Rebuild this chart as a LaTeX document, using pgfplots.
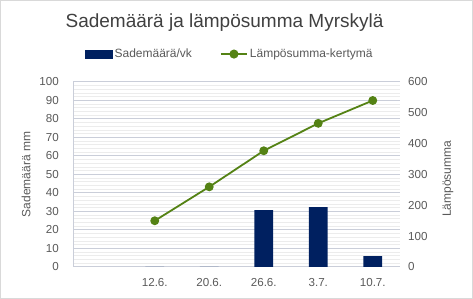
\documentclass[border=0pt]{standalone}
\usepackage{pgfplots}
\pgfplotsset{compat=1.18}
\usepackage{fontspec}
\setmainfont{Liberation Sans}
\definecolor{navy}{HTML}{002060}
\definecolor{lgreen}{RGB}{84,130,20}
\definecolor{txt}{HTML}{595959}
\definecolor{ttl}{HTML}{404040}
\definecolor{majgrid}{HTML}{CACED9}
\definecolor{mingrid}{HTML}{ECECEC}
\definecolor{frame}{HTML}{D9D9D9}
\begin{document}
\begin{tikzpicture}[x=1pt,y=1pt]
\draw[frame, line width=1pt] (0.5,0.5) rectangle (472.5,298.5);
\node[ttl, font=\fontsize{19}{23}\selectfont, anchor=center] at (224.5,276) {Sademäärä ja lämpösumma Myrskylä};
\begin{axis}[
  at={(73pt,32pt)}, anchor=south west,
  scale only axis, width=327pt, height=185pt,
  xmin=-0.5, xmax=5.5, ymin=0, ymax=100,
  /pgf/number format/assume math mode=true,
  xtick={0,...,5}, xticklabels={,12.6.,20.6.,26.6.,3.7.,10.7.},
  ytick={0,10,...,100},
  minor y tick num=4,
  ymajorgrids, yminorgrids,
  major grid style={majgrid, line width=1pt},
  minor grid style={mingrid, line width=1pt},
  axis x line*=bottom, axis y line*=left,
  axis line style={draw=majgrid, line width=1pt, -},
  major tick length=0pt, minor tick length=0pt,
  tick label style={font=\fontsize{11.6}{13}\selectfont, text=txt, inner sep=0pt},
  yticklabel style={anchor=east, xshift=-14pt},
  xticklabel style={anchor=north, yshift=-11.5pt},
  ylabel={Sademäärä mm},
  every axis y label/.style={at={(axis description cs:-0.1437,0.5)}, rotate=90, anchor=center, font=\fontsize{12}{14}\selectfont, text=txt},
  legend style={at={(axis description cs:0.479,1.151)}, anchor=center, draw=none, fill=none,
    legend columns=2, font=\fontsize{12}{14}\selectfont, text=txt,
    /tikz/every even column/.append style={column sep=26pt}},
  legend cell align=left,
]
\addplot[ybar, bar width=18.7pt, bar shift=0pt, fill=navy, draw=none,
  legend image code/.code={\fill[navy] (0pt,-4.5pt) rectangle (28pt,4.5pt);}]
  coordinates {(1,0) (2,0) (3,30.8) (4,32.4) (5,5.9)};
\addlegendentry{Sademäärä/vk}
\addlegendimage{lgreen, line width=2pt, legend image code/.code={\draw[lgreen, line width=2pt] (0pt,0pt) -- (26pt,0pt); \fill[lgreen] (13pt,0pt) circle (3.5pt);}}
\addlegendentry{Lämpösumma-kertymä}
\end{axis}
\begin{axis}[
  at={(73pt,32pt)}, anchor=south west,
  scale only axis, width=327pt, height=185pt,
  xmin=-0.5, xmax=5.5, ymin=0, ymax=600,
  /pgf/number format/assume math mode=true,
  axis x line=none, axis y line*=right,
  y axis line style={draw=none},
  ytick={0,100,...,600},
  major tick length=0pt,
  tick label style={font=\fontsize{11.6}{13}\selectfont, text=txt, inner sep=0pt},
  yticklabel style={anchor=west, xshift=8pt},
  ylabel={Lämpösumma},
  every axis y label/.style={at={(axis description cs:1.1468,0.476)}, rotate=90, anchor=center, font=\fontsize{12}{14}\selectfont, text=txt},
  clip=false,
]
\addplot[lgreen, line width=1.8pt, mark=*, mark size=3.5pt, mark options={fill=lgreen, draw=lgreen}]
  coordinates {(1,150) (2,260) (3,377) (4,466) (5,540)};
\end{axis}
\end{tikzpicture}
\end{document}
